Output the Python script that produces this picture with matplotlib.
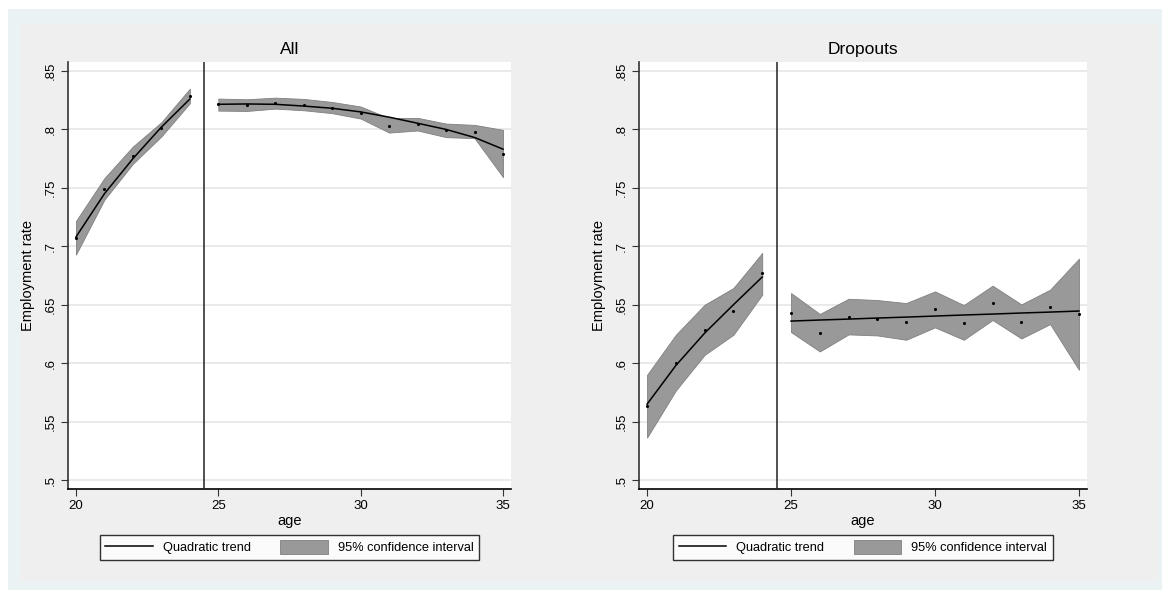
import matplotlib
matplotlib.use("Agg")
import matplotlib.pyplot as plt
from matplotlib.patches import Rectangle, Patch
from matplotlib.lines import Line2D

plt.rcParams["font.family"] = ["Liberation Sans", "DejaVu Sans"]

ages_pre = [20, 21, 22, 23, 24]
ages_post = [25, 26, 27, 28, 29, 30, 31, 32, 33, 34, 35]

# All
mean_all = [.7069, .7487, .7771, .8008, .8289,
            .8215, .8207, .8227, .8210, .8181, .8141, .8033, .8048, .7993, .7979, .7789]
trend_all = [.708, .745, .775, .802, .826,
             .8215, .8218, .8215, .8200, .8181, .8150, .8105, .8053, .8000, .7931, .7831]
upper_all = [.7217, .7584, .7854, .8062, .8349,
             .8264, .8258, .8272, .8261, .8235, .8196, .8096, .8099, .8050, .8039, .7996]
lower_all = [.6929, .7399, .7706, .7940, .8224,
             .8161, .8158, .8178, .8164, .8139, .8093, .7973, .7991, .7934, .7925, .7592]

# Dropouts
mean_drop = [.5629, .6000, .6286, .6443, .6769,
             .6429, .6257, .6397, .6377, .6354, .6460, .6346, .6517, .6354, .6477, .6417]
trend_drop = [.5649, .598, .6257, .650, .6737,
              .6360, .6369, .6377, .6386, .6394, .6403, .6412, .6420, .6429, .6437, .6446]
upper_drop = [.5900, .6243, .6500, .6643, .6943,
              .6600, .6421, .6551, .6540, .6514, .6614, .6497, .6663, .6503, .6629, .6894]
lower_drop = [.5363, .5766, .6071, .6243, .6586,
              .6266, .6100, .6246, .6237, .6200, .6306, .6200, .6369, .6211, .6334, .5943]

yticks = [.5, .55, .6, .65, .7, .75, .8, .85]
ytick_labels = [".5", ".55", ".6", ".65", ".7", ".75", ".8", ".85"]
xticks = [20, 25, 30, 35]

panels = [
    ("All", mean_all, trend_all, upper_all, lower_all),
    ("Dropouts", mean_drop, trend_drop, upper_drop, lower_drop),
]

W, H = 1162, 590
fig = plt.figure(figsize=(W / 100, H / 100), dpi=100)
fig.patch.set_facecolor("white")

# stata-like frame
fig.patches.append(Rectangle((8 / W, 0), 1 - 8 / W, 1 - 9 / H, transform=fig.transFigure,
                             facecolor="#EAF2F3", edgecolor="none", zorder=-2))
fig.patches.append(Rectangle((20 / W, 9 / H), (1158 - 20) / W, (581 - 24) / H,
                             transform=fig.transFigure, facecolor="#EFEFEF",
                             edgecolor="none", zorder=-1))

ax_pos = [
    [68 / W, 1 - 489 / H, (511 - 68) / W, (489 - 62) / H],
    [639 / W, 1 - 489 / H, (1087 - 639) / W, (489 - 62) / H],
]

n_pre = len(ages_pre)
for pos, (title, mean, trend, upper, lower) in zip(ax_pos, panels):
    ax = fig.add_axes(pos)
    ax.set_facecolor("white")

    for seg_ages, sl in [(ages_pre, slice(0, n_pre)), (ages_post, slice(n_pre, None))]:
        ax.fill_between(seg_ages, lower[sl], upper[sl], facecolor="#999999",
                        edgecolor="#808080", linewidth=0.6, zorder=2)
        ax.plot(seg_ages, trend[sl], color="black", linewidth=1.1, zorder=3)
        ax.scatter(seg_ages, mean[sl], s=5, color="black", zorder=4, linewidths=0)

    ax.axvline(24.5, color="#222222", linewidth=1.1, zorder=3)

    ax.set_xlim(19.72, 35.28)
    ax.set_ylim(.4923, .8577)
    ax.set_yticks(yticks)
    ax.set_yticklabels(ytick_labels, rotation=90, va="center")
    ax.set_xticks(xticks)
    ax.yaxis.grid(True, color="#E6E6E6", linewidth=1.2, zorder=0)
    ax.set_axisbelow(True)
    ax.tick_params(labelsize=9.5, length=5, width=0.8, color="#333333", pad=3)

    for side in ["top", "right"]:
        ax.spines[side].set_visible(False)
    ax.spines["left"].set_color("#333333")
    ax.spines["bottom"].set_color("black")
    ax.spines["left"].set_linewidth(1.2)
    ax.spines["bottom"].set_linewidth(1.2)

    ax.set_title(title, fontsize=12.5, pad=6)
    ax.set_xlabel("age", fontsize=10.5, labelpad=1)
    ax.set_ylabel("Employment rate", fontsize=10.5, labelpad=7)

    handles = [Line2D([], [], color="black", linewidth=1.1),
               Patch(facecolor="#999999", edgecolor="#808080", linewidth=0.6)]
    leg = ax.legend(handles, ["Quadratic trend", "95% confidence interval"],
                    loc="upper center", bbox_to_anchor=(0.5, -0.107), ncol=2,
                    fontsize=9.2, frameon=True, fancybox=False, edgecolor="black",
                    handlelength=3.7, handleheight=1.2, handletextpad=0.8,
                    columnspacing=2.3, borderpad=0.45, borderaxespad=0)
    leg.get_frame().set_linewidth(1.0)
    leg.get_frame().set_facecolor("white")

fig.savefig("out.png", dpi=100, facecolor=fig.get_facecolor())
